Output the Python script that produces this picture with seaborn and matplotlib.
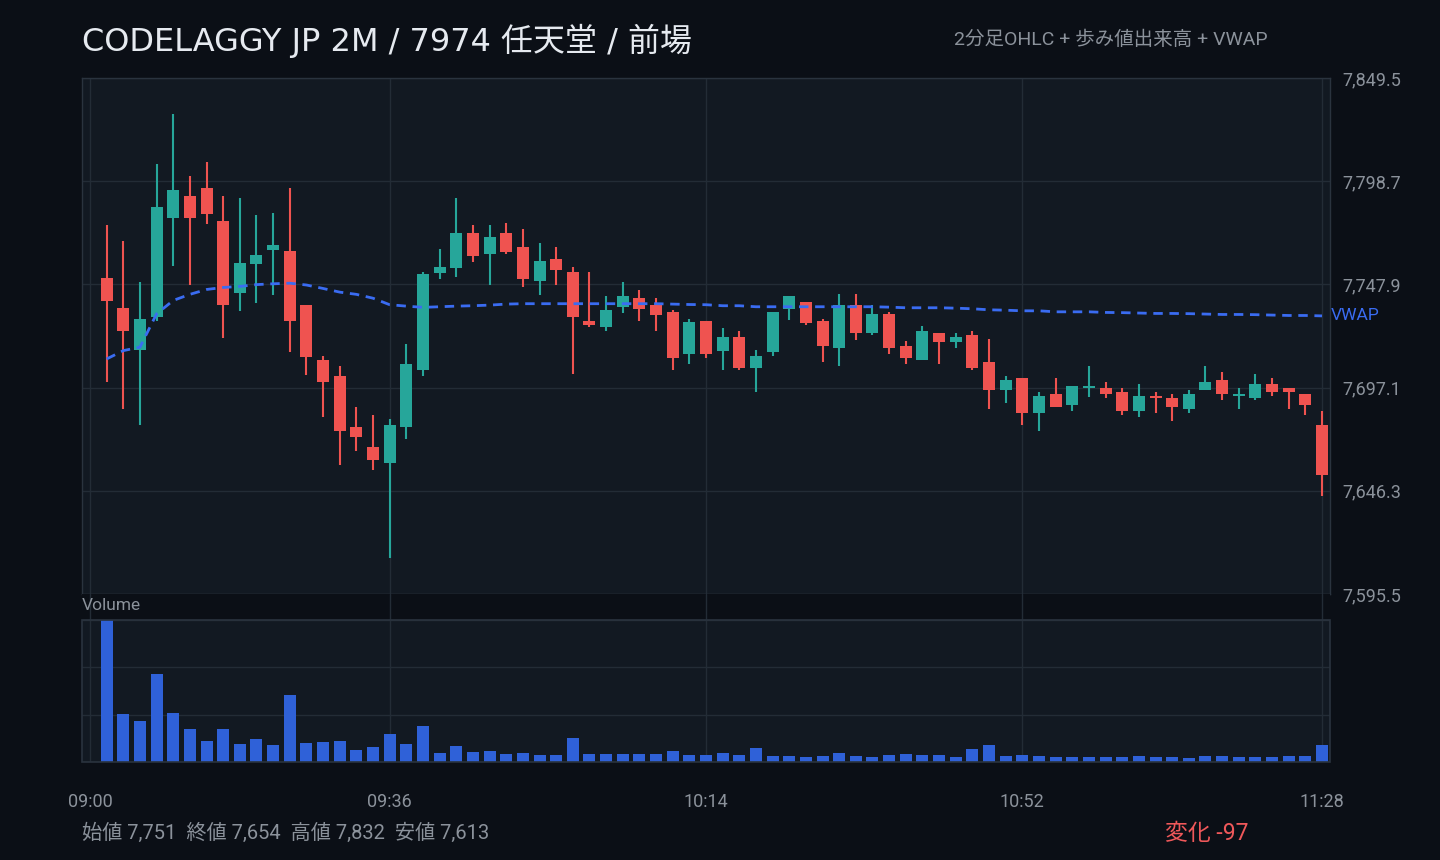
# ============================================
# CODELAGGY JP 2M / 7974 任天堂 / 前場
# 2分足ローソク足 + 出来高 + VWAP
# ============================================

import numpy as np
import pandas as pd
import matplotlib
matplotlib.use("Agg")
import matplotlib.pyplot as plt
from matplotlib.patches import Rectangle
from matplotlib.ticker import FuncFormatter
import seaborn as sns


# 1 Data

open_ = [7751.0, 7736.1, 7715.5, 7731.8, 7780.6, 7791.3, 7795.2, 7779.0, 7743.6, 7757.9,
         7764.8, 7764.2, 7738.0, 7710.9, 7703.0, 7677.9, 7668.0, 7659.8, 7677.5, 7705.6,
         7753.5, 7755.9, 7773.1, 7762.8, 7773.1, 7766.1, 7749.5, 7760.2, 7753.8, 7730.1,
         7726.8, 7736.7, 7741.0, 7738.0, 7734.1, 7713.5, 7730.1, 7715.3, 7721.8, 7706.6,
         7714.5, 7735.7, 7739.0, 7730.1, 7716.5, 7738.0, 7723.9, 7733.1, 7717.8, 7710.6,
         7724.2, 7719.4, 7723.2, 7709.9, 7695.8, 7702.0, 7684.4, 7694.1, 7688.4, 7696.8,
         7697.1, 7695.1, 7685.4, 7693.2, 7692.2, 7686.4, 7695.8, 7701.0, 7692.8, 7691.8,
         7699.1, 7697.1, 7694.1, 7678.9]

high = [7777.0, 7769.1, 7748.9, 7807.1, 7832.0, 7801.2, 7808.1, 7791.3, 7790.3, 7781.9,
        7782.9, 7795.2, 7738.0, 7712.9, 7707.9, 7687.7, 7683.8, 7681.8, 7718.8, 7753.8,
        7765.2, 7790.3, 7777.0, 7777.0, 7778.0, 7775.0, 7768.1, 7766.1, 7756.3, 7753.8,
        7742.0, 7748.9, 7744.9, 7741.0, 7735.1, 7731.1, 7730.1, 7726.2, 7725.2, 7715.8,
        7734.1, 7742.0, 7739.0, 7731.1, 7743.0, 7743.0, 7738.0, 7734.1, 7719.8, 7727.2,
        7724.2, 7724.2, 7725.2, 7720.8, 7703.0, 7702.0, 7695.1, 7702.0, 7698.1, 7707.9,
        7700.0, 7697.1, 7699.1, 7695.1, 7694.1, 7696.1, 7707.9, 7705.0, 7697.1, 7704.0,
        7702.0, 7697.1, 7694.1, 7685.8]

low = [7699.7, 7686.4, 7678.5, 7730.0, 7756.9, 7747.6, 7777.6, 7721.4, 7734.7, 7738.7,
       7742.6, 7714.5, 7703.5, 7682.5, 7658.8, 7665.7, 7656.3, 7613.0, 7671.6, 7702.7,
       7750.5, 7751.5, 7758.9, 7747.6, 7762.8, 7746.6, 7742.6, 7747.6, 7703.7, 7726.8,
       7724.9, 7733.7, 7729.8, 7724.9, 7705.6, 7708.6, 7711.6, 7705.6, 7705.6, 7694.8,
       7712.5, 7730.6, 7727.8, 7709.6, 7707.6, 7720.4, 7722.9, 7713.5, 7708.6, 7710.6,
       7708.6, 7716.5, 7705.6, 7686.4, 7689.4, 7678.5, 7675.5, 7687.4, 7685.4, 7692.7,
       7691.8, 7683.4, 7682.5, 7684.4, 7680.5, 7684.4, 7695.8, 7690.8, 7686.4, 7690.8,
       7693.0, 7686.4, 7683.4, 7643.5]

close = [7739.5, 7724.9, 7731.1, 7785.9, 7794.3, 7780.6, 7782.6, 7737.7, 7758.3, 7762.2,
         7767.1, 7729.8, 7712.4, 7699.7, 7675.5, 7672.6, 7661.7, 7678.9, 7708.9, 7752.8,
         7756.3, 7773.1, 7761.9, 7771.1, 7763.8, 7750.5, 7759.2, 7754.9, 7731.8, 7727.8,
         7735.1, 7742.0, 7735.7, 7732.8, 7711.6, 7729.2, 7713.4, 7721.8, 7706.6, 7712.9,
         7734.1, 7742.0, 7728.8, 7717.5, 7738.0, 7723.9, 7733.1, 7716.5, 7711.6, 7725.2,
         7719.4, 7721.8, 7706.6, 7695.8, 7701.0, 7684.4, 7693.2, 7687.4, 7698.1, 7698.1,
         7693.8, 7685.4, 7693.2, 7691.8, 7687.4, 7694.1, 7700.0, 7693.8, 7694.1, 7699.1,
         7694.8, 7694.8, 7688.4, 7654.0]

vwap = [7711.2, 7715.3, 7717.0, 7733.4, 7740.0, 7743.0, 7745.4, 7746.4, 7746.9, 7747.8,
        7748.2, 7748.5, 7747.6, 7745.9, 7744.1, 7743.0, 7741.1, 7737.9, 7737.2, 7736.6,
        7736.9, 7737.2, 7737.4, 7737.7, 7738.2, 7738.4, 7738.4, 7738.4, 7738.4, 7738.4,
        7738.4, 7738.4, 7738.4, 7738.4, 7738.2, 7738.0, 7737.9, 7737.4, 7737.4, 7736.9,
        7736.9, 7736.9, 7736.9, 7736.9, 7736.9, 7736.9, 7736.9, 7736.7, 7736.4, 7736.4,
        7736.4, 7736.2, 7735.9, 7735.4, 7735.2, 7734.9, 7734.9, 7734.4, 7734.4, 7734.4,
        7734.1, 7734.0, 7733.8, 7733.6, 7733.6, 7733.5, 7733.3, 7733.1, 7733.1, 7733.0,
        7732.8, 7732.6, 7732.6, 7732.4]

volume = [14300, 4800, 4100, 8900, 4900, 3300, 2100, 3300, 1800, 2300,
          1700, 6700, 1900, 2000, 2100, 1200, 1500, 2800, 1800, 3600,
          900, 1600, 1000, 1100, 800, 900, 700, 700, 2400, 800,
          800, 800, 800, 800, 1100, 700, 700, 900, 700, 1400,
          600, 600, 500, 600, 900, 600, 500, 700, 800, 700,
          700, 500, 1300, 1700, 600, 700, 600, 500, 500, 500,
          500, 500, 600, 500, 500, 400, 600, 600, 500, 500,
          500, 600, 600, 1700]

tick_labels = ["09:00", "09:36", "10:14", "10:52", "11:28"]
price_ticks = [7595.5, 7646.3, 7697.1, 7747.9, 7798.7, 7849.5]

# 2 Table

times = pd.date_range("2024-01-01 09:02", periods=len(close), freq="2min")
df = pd.DataFrame({"time": times, "open": open_, "high": high, "low": low,
                   "close": close, "vwap": vwap, "volume": volume})
start = pd.Timestamp("2024-01-01 09:00")
df["minute"] = (df["time"] - start).dt.total_seconds() / 60
tick_pos = [(pd.Timestamp("2024-01-01 " + t) - start).total_seconds() / 60 for t in tick_labels]

# 3 Style

BG = "#0b0f16"
PANEL = "#121922"
GRID = "#232c36"
SPINE = "#2a333e"
TEXT = "#8b929b"
UP = "#26a69a"
DOWN = "#ef5350"
BLUE = "#3a6cf2"
VOLC = "#2f61d8"

sns.set_theme(style="dark")
plt.rcParams["font.family"] = ["Roboto", "Noto Sans CJK JP", "DejaVu Sans"]
plt.rcParams["axes.unicode_minus"] = False

fig = plt.figure(figsize=(14.4, 8.6), dpi=100, facecolor=BG)
ax = fig.add_axes([82 / 1440, 1 - 594 / 860, 1248 / 1440, 516 / 860])
axv = fig.add_axes([82 / 1440, 1 - 762 / 860, 1248 / 1440, 168 / 860])

xlim = (-0.96, 148.96)

# 4 Price panel

ax.set_facecolor(PANEL)
up = df["close"] >= df["open"]
colors = np.where(up, UP, DOWN)
ax.vlines(df["minute"], df["low"], df["high"], colors=colors, linewidth=1.5, zorder=2)
ax.bar(df["minute"], df["close"] - df["open"], bottom=df["open"], width=1.44,
       color=colors, linewidth=0, zorder=3)

sns.lineplot(data=df, x="minute", y="vwap", ax=ax, color=BLUE, linewidth=2.0,
             linestyle=(0, (3.4, 2.4)), zorder=4)
ax.text(1.0008, df["vwap"].iloc[-1], "VWAP", transform=ax.get_yaxis_transform(),
        color=BLUE, fontsize=12.5, ha="left", va="center", clip_on=False)

ax.set_xlim(xlim)
ax.set_ylim(price_ticks[0], price_ticks[-1])
ax.set_yticks(price_ticks)
ax.yaxis.tick_right()
ax.yaxis.set_major_formatter(FuncFormatter(lambda v, p: f"{v:,.1f}"))
ax.set_xticks(tick_pos)
ax.set_xticklabels([])
ax.tick_params(axis="y", colors=TEXT, labelsize=13, length=0, pad=9)
ax.tick_params(axis="x", length=0)
ax.grid(True, color=GRID, linewidth=1)
ax.set_axisbelow(True)
ax.set_xlabel("")
ax.set_ylabel("")
for s in ax.spines.values():
    s.set_visible(True)
    s.set_color(SPINE)
    s.set_linewidth(1)

# 5 Volume panel

vmax = max(volume)
axv.set_facecolor(PANEL)
sns.barplot(data=df, x="minute", y="volume", ax=axv, native_scale=True, width=0.72,
            color=VOLC, saturation=1, errorbar=None, linewidth=0, edgecolor=VOLC,
            zorder=3)
axv.set_xlim(xlim)
axv.set_ylim(0, vmax * 168 / 142)
axv.axhspan(vmax, vmax * 168 / 142, color=BG, zorder=0.2, linewidth=0)
axv.set_yticks([0, vmax / 3, 2 * vmax / 3, vmax])
axv.set_yticklabels([])
axv.set_xticks(tick_pos)
axv.set_xticklabels(tick_labels)
axv.tick_params(axis="x", colors=TEXT, labelsize=13, length=0, pad=22)
axv.tick_params(axis="y", length=0)
axv.grid(True, color=GRID, linewidth=1)
axv.set_axisbelow(True)
axv.set_xlabel("")
axv.set_ylabel("")
for s in axv.spines.values():
    s.set_visible(False)
axv.add_patch(Rectangle((xlim[0], 0), xlim[1] - xlim[0], vmax, fill=False,
                        edgecolor=SPINE, linewidth=1.2, zorder=5, clip_on=False))

fig.text(82 / 1440, 1 - 606 / 860, "Volume", color=TEXT, fontsize=12.5,
         ha="left", va="center")

# 6 Titles and footer

fig.text(82 / 1440, 1 - 41 / 860, "CODELAGGY JP 2M / 7974 任天堂 / 前場",
         color="#e6eaf0", fontsize=23, family=["DejaVu Sans", "Noto Sans CJK JP"],
         ha="left", va="center")
fig.text(1268 / 1440, 1 - 40 / 860, "2分足OHLC + 歩み値出来高 + VWAP",
         color=TEXT, fontsize=14, ha="right", va="center")

first, last = df["open"].iloc[0], df["close"].iloc[-1]
summary = (f"始値 {first:,.0f}  終値 {last:,.0f}  "
           f"高値 {df['high'].max():,.0f}  安値 {df['low'].min():,.0f}")
fig.text(82 / 1440, 1 - 833 / 860, summary, color=TEXT, fontsize=14.5,
         ha="left", va="center")
fig.text(1165 / 1440, 1 - 833 / 860, f"変化 {last - first:+.0f}".replace("+", ""),
         color="#f0585a", fontsize=16.5, ha="left", va="center")

plt.savefig("out.png", dpi=100, facecolor=BG)
